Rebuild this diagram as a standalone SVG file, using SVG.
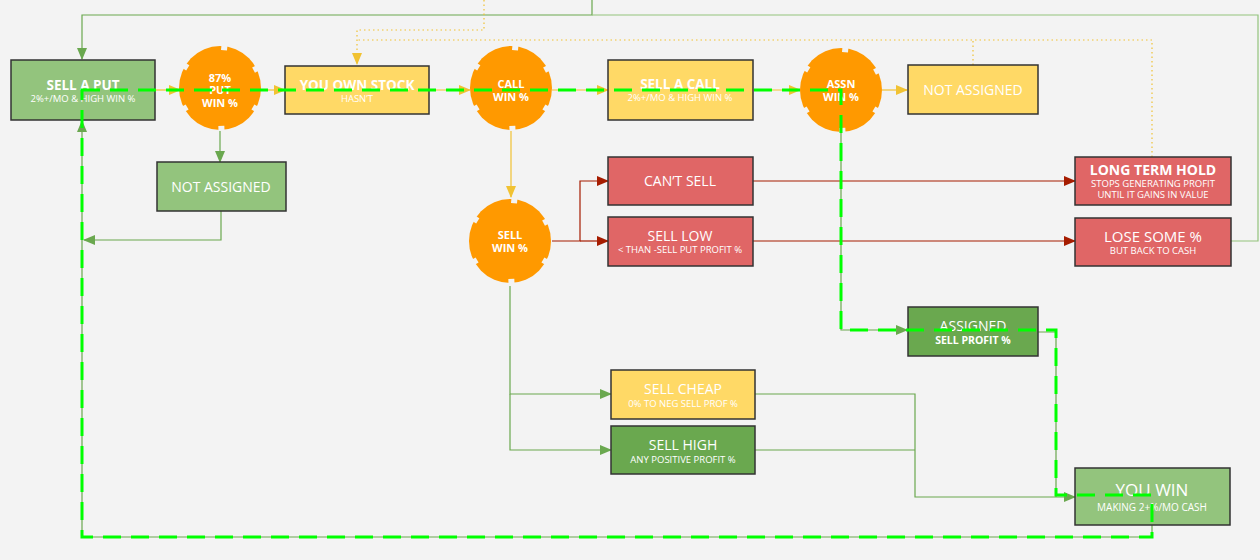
<svg xmlns="http://www.w3.org/2000/svg" xmlns:xlink="http://www.w3.org/1999/xlink" width="1260" height="560" viewBox="0 0 1260 560">
<style>
text{font-family:"Open Sans","Liberation Sans",Arial,sans-serif;fill:#ffffff;text-anchor:middle}
.t{font-size:14px}
.tb{font-size:13.5px;font-weight:bold}
.s{font-size:9.5px}
.sb{font-size:10.5px;font-weight:bold}
.c{font-size:11px;font-weight:bold}
.box{stroke:#333333;stroke-width:1.5}
.g1{fill:#93c47d}.g2{fill:#6aa84f}.y{fill:#ffd966}.r{fill:#e06666}
.ln{fill:none;stroke-width:1.2}
.lg{stroke:#6aa84f}.lg2{stroke:#93c47d}.lo{stroke:#f1c232}.lr{stroke:#a61c00}
.dot{fill:none;stroke:#f1c232;stroke-width:1.2;stroke-dasharray:1.5 3}
.hl{fill:none;stroke:#00ff00;stroke-width:3;stroke-dasharray:18 10}
</style>
<defs>
<marker id="ag" markerUnits="userSpaceOnUse" markerWidth="12" markerHeight="10" refX="11" refY="5" orient="auto"><path d="M0,0 L12,5 L0,10 Z" fill="#6aa84f"/></marker>
<marker id="ao" markerUnits="userSpaceOnUse" markerWidth="12" markerHeight="10" refX="11" refY="5" orient="auto"><path d="M0,0 L12,5 L0,10 Z" fill="#f1c232"/></marker>
<marker id="ar" markerUnits="userSpaceOnUse" markerWidth="12" markerHeight="10" refX="11" refY="5" orient="auto"><path d="M0,0 L12,5 L0,10 Z" fill="#a61c00"/></marker>
<mask id="notch" maskUnits="userSpaceOnUse" x="-50" y="-50" width="100" height="100">
<rect x="-50" y="-50" width="100" height="100" fill="#fff"/>
<g fill="#000">
<rect x="38" y="-3" width="10" height="6" transform="rotate(-84)"/>
<rect x="38" y="-3" width="10" height="6" transform="rotate(-28)"/>
<rect x="38" y="-3" width="10" height="6" transform="rotate(30)"/>
<rect x="38" y="-3" width="10" height="6" transform="rotate(88)"/>
<rect x="38" y="-3" width="10" height="6" transform="rotate(150)"/>
<rect x="38" y="-3" width="10" height="6" transform="rotate(-148)"/>
</g>
</mask>
<g id="gear"><ellipse rx="41" ry="42" fill="#ff9900" mask="url(#notch)"/></g>
</defs>
<rect width="1260" height="560" fill="#f3f3f3"/>
<g id="connectors">
<path class="ln lg" d="M592,0 V15 H82 V59" marker-end="url(#ag)" stroke-width="1.6"/>
<path class="ln lg2" d="M1231,241 H1258 V15 H592" stroke-width="1.5"/>
<path class="dot" d="M484,0 V30 H357 V64" marker-end="url(#ao)"/>
<path class="dot" d="M1152,157 V40 H357"/>
<path class="dot" d="M973,65 V40"/>
<path class="ln lo" d="M155,90 H180" marker-end="url(#ao)"/>
<path class="ln lo" d="M261,90 H285" marker-end="url(#ao)"/>
<path class="ln lo" d="M429,90 H470" marker-end="url(#ao)"/>
<path class="ln lo" d="M552,90 H608" marker-end="url(#ao)"/>
<path class="ln lo" d="M753,90 H800" marker-end="url(#ao)"/>
<path class="ln lo" d="M882,90 H907" marker-end="url(#ao)"/>
<path class="ln lo" d="M511,131 V197" marker-end="url(#ao)"/>
<path class="ln lg" d="M220,131 V162" marker-end="url(#ag)"/>
<path class="ln lg" d="M221,211 V240 H84" marker-end="url(#ag)"/>
<path class="ln lg" d="M1152,525 V537 H82 V121" marker-end="url(#ag)"/>
<path class="ln lr" d="M552,241 H580 V181 H608" marker-end="url(#ar)"/>
<path class="ln lr" d="M580,241 H608" marker-end="url(#ar)"/>
<path class="ln lr" d="M753,181 H1075" marker-end="url(#ar)"/>
<path class="ln lr" d="M753,241 H1075" marker-end="url(#ar)"/>
<path class="ln lg" d="M510,286 V394 H611" marker-end="url(#ag)"/>
<path class="ln lg" d="M510,394 V450 H611" marker-end="url(#ag)"/>
<path class="ln lg" d="M755,394 H915 V497 H1075" marker-end="url(#ag)"/>
<path class="ln lg" d="M755,450 H915"/>
<path class="ln lg" d="M841,132 V330 H907" marker-end="url(#ag)"/>
<path class="ln lg" d="M1038,332 H1056 V497"/>
</g>
<g id="sell-put"><rect class="box g1" x="11" y="60" width="144" height="60"/><text class="tb" x="83" y="89.5">SELL A PUT</text><text class="s" x="83" y="102">2%+/MO &amp; HIGH WIN %</text></g>
<g id="put-win"><use href="#gear" x="220" y="88"/><text class="c" x="220" y="81.5">87%</text><text class="c" x="220" y="94">PUT</text><text class="c" x="220" y="106.5">WIN %</text></g>
<g id="own-stock"><rect class="box y" x="285" y="66" width="144" height="48"/><text class="tb" x="357" y="89.5">YOU OWN STOCK</text><text class="s" x="357" y="101.5">HASN’T</text></g>
<g id="call-win"><use href="#gear" x="511" y="88"/><text class="c" x="511" y="88">CALL</text><text class="c" x="511" y="101">WIN %</text></g>
<g id="sell-call"><rect class="box y" x="608" y="60" width="145" height="60"/><text class="tb" x="680" y="88.5">SELL A CALL</text><text class="s" x="680" y="101">2%+/MO &amp; HIGH WIN %</text></g>
<g id="assn-win"><use href="#gear" x="841" y="90"/><text class="c" x="841" y="87.5">ASSN</text><text class="c" x="841" y="100.5">WIN %</text></g>
<g id="not-assigned-call"><rect class="box y" x="908" y="65" width="130" height="49"/><text class="t" x="973" y="95">NOT ASSIGNED</text></g>
<g id="not-assigned-put"><rect class="box g1" x="157" y="162" width="129" height="49"/><text class="t" x="221" y="191.5">NOT ASSIGNED</text></g>
<g id="sell-win"><use href="#gear" x="510" y="241"/><text class="c" x="510" y="239">SELL</text><text class="c" x="510" y="252">WIN %</text></g>
<g id="cant-sell"><rect class="box r" x="608" y="157" width="145" height="48"/><text class="t" x="680" y="186">CAN’T SELL</text></g>
<g id="sell-low"><rect class="box r" x="608" y="217" width="145" height="49"/><text class="t" x="680" y="240.5">SELL LOW</text><text class="s" x="680" y="253">&lt; THAN -SELL PUT PROFIT %</text></g>
<g id="long-term-hold"><rect class="box r" x="1075" y="157" width="156" height="48"/><text class="tb" x="1153" y="174.5" style="font-size:14px">LONG TERM HOLD</text><text class="s" x="1153" y="186.5">STOPS GENERATING PROFIT</text><text class="s" x="1153" y="198">UNTIL IT GAINS IN VALUE</text></g>
<g id="lose-some"><rect class="box r" x="1075" y="218" width="156" height="48"/><text class="t" x="1153" y="241.5" style="font-size:15px">LOSE SOME %</text><text class="s" x="1153" y="253.5">BUT BACK TO CASH</text></g>
<g id="assigned"><rect class="box g2" x="908" y="307" width="130" height="49"/><text class="t" x="973" y="331">ASSIGNED</text><text class="sb" x="973" y="344">SELL PROFIT %</text></g>
<g id="sell-cheap"><rect class="box y" x="611" y="370" width="144" height="49"/><text class="t" x="683" y="394">SELL CHEAP</text><text class="s" x="683" y="406.5">0% TO NEG SELL PROF %</text></g>
<g id="sell-high"><rect class="box g2" x="611" y="426" width="144" height="48"/><text class="t" x="683" y="449.5">SELL HIGH</text><text class="s" x="683" y="463">ANY POSITIVE PROFIT %</text></g>
<g id="you-win"><rect class="box g1" x="1075" y="468" width="155" height="57"/><text class="t" x="1152" y="495.5" style="font-size:17px">YOU WIN</text><text class="s" x="1152" y="510.5" style="font-size:10px">MAKING 2+%/MO CASH</text></g>
<g id="highlight">
<path class="hl" d="M82,90 H841 V330 H1056 V495 H1152 V537 H82 Z"/>
</g>
</svg>
